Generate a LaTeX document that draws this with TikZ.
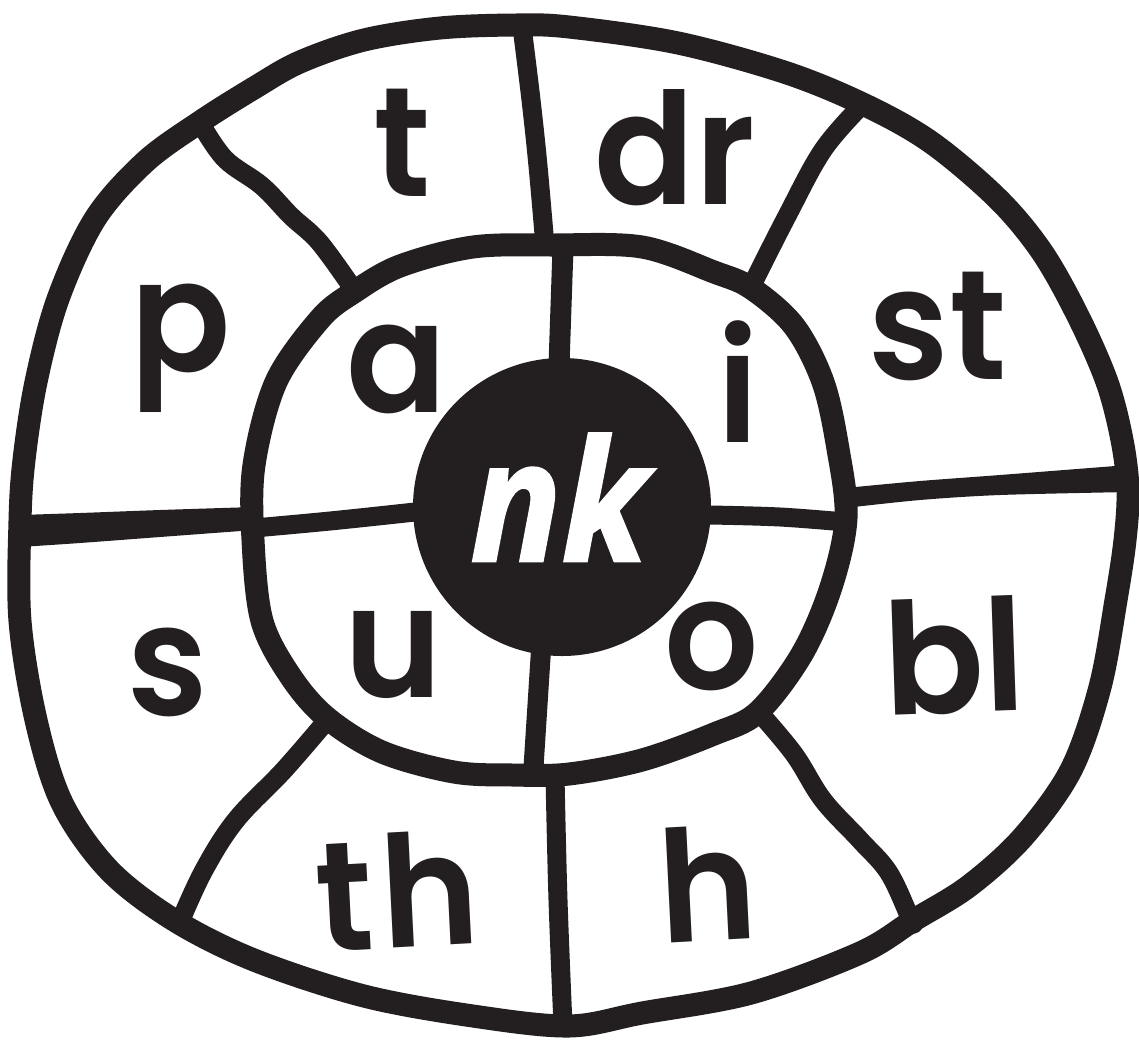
\documentclass[tikz,border=0pt]{standalone}
\usepackage{fontspec}
\setmainfont{Poppins}
\newfontfamily\lettfont{Poppins SemiBold}
\newfontfamily\nkfont{Open Sans}[FakeBold=1.5]
\definecolor{ink}{RGB}{35,31,32}
\tikzset{
  rim/.style={draw=ink, line width=23pt, line join=round},
  ring/.style={draw=ink, line width=23pt, line join=round},
  divider/.style={draw=ink, line width=19pt, line cap=butt, line join=round},
  lett/.style={inner sep=0pt, anchor=base, text=ink, yscale=1.05, font=\lettfont\fontsize{148}{148}\selectfont},
  nkstyle/.style={inner sep=0pt, anchor=base, text=white, xscale=0.9, font=\nkfont\fontsize{168}{168}\selectfont\bfseries\itshape},
}
\begin{document}
\begin{tikzpicture}[x=1pt, y=-1pt]
\useasboundingbox (0,0) rectangle (1139,1042);
\fill[white] (0,0) rectangle (1139,1042);

% outer ring dividers
\draw[divider] plot[smooth, tension=0.6] coordinates {(201,124) (225,159) (262,186) (291,216) (320,243) (356,293)};
\draw[divider] plot[smooth, tension=0.6] coordinates {(522,27) (531,100) (538,166) (545,246)};
\draw[divider] plot[smooth, tension=0.6] coordinates {(862,105) (823,150) (787,216) (750,289)};
\draw[divider] plot[smooth, tension=0.6] coordinates {(328,719) (284,770) (236,820) (204,870) (180,922)};
\draw[divider] plot[smooth, tension=0.6] coordinates {(555,776) (558,900) (563,1025)};
\draw[divider] plot[smooth, tension=0.6] coordinates {(758,711) (794,754) (823,800) (860,840) (889,873) (911,920) (913,922)};
% tapered horizontal dividers
\fill[ink] plot[smooth, tension=0.5] coordinates {(20,515) (80,513) (160,510) (254,507)} -- plot[smooth, tension=0.5] coordinates {(254,530) (160,537) (80,543) (20,547)} -- cycle;
\fill[ink] plot[smooth, tension=0.5] coordinates {(845,488) (920,481) (1000,475) (1128,465)} -- plot[smooth, tension=0.5] coordinates {(1128,492) (1000,495) (920,500) (845,508)} -- cycle;

% inner ring dividers
\draw[divider, line width=21pt] (563,248) -- (559,365);
\draw[divider] plot[smooth, tension=0.6] coordinates {(254,528) (330,521) (415,512)};
\draw[divider] plot[smooth, tension=0.6] coordinates {(710,515) (780,517) (845,522)};
\draw[divider, line width=20pt] (541,650) -- (533,775);

% outer blob
\draw[rim] plot[smooth cycle, tension=0.55] coordinates {(516,25) (569,27) (678,43) (787,73) (867,106) (932,143) (998,199) (1042,252) (1078,316) (1107,382) (1122,440) (1128,490) (1125,540) (1116,600) (1100,687) (1071,770) (1023,837) (969,886) (914,920) (860,953) (751,993) (642,1013) (569,1026) (473,1016) (364,996) (254,960) (174,920) (109,870) (62,803) (36,720) (20,621) (20,521) (24,460) (36,382) (58,299) (95,219) (145,162) (200,122) (254,88) (300,62) (364,40) (440,28)};

% inner circle
\draw[ring] plot[smooth cycle, tension=0.55] coordinates {(553,245) (642,247) (714,272) (751,288) (794,326) (823,382) (838,449) (846,518) (831,587) (802,654) (758,712) (714,734) (642,760) (569,774) (513,775) (454,772) (382,752) (327,718) (291,677) (262,621) (253,540) (254,465) (276,382) (320,319) (354,292) (400,266) (473,247)};

% centre disk
\fill[ink] (562,507) circle[radius=149pt];
\node[nkstyle] (nk) at (559,561) {nk};

% outer letters
\node[lett] (lt) at (402,196) {t};
\node[lett] (ldr) at (675,204) {dr};
\node[lett] (lp) at (181,371) {p};
\node[lett] (lst) at (938,379) {st};
\node[lett] (ls) at (168,715) {s};
\node[lett, rotate=2] (lbl) at (956,713) {bl};
\node[lett, rotate=3] (lth) at (400,948) {t\kern8pt h};
\node[lett, rotate=3] (lh) at (710,941) {h};
% inner letters
\node[lett] (la) at (397,412) {a};
\node[lett] (li) at (738,442) {i};
\node[lett] (lu) at (393,697) {u};
\node[lett] (lo) at (712,689) {o};
\end{tikzpicture}
\end{document}
